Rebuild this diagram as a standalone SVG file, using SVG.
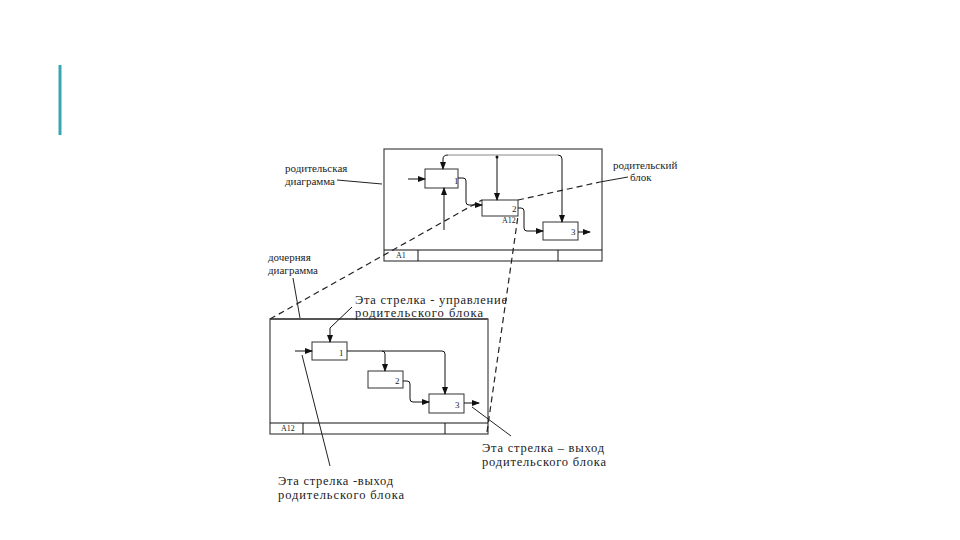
<svg xmlns="http://www.w3.org/2000/svg" width="960" height="540" viewBox="0 0 960 540">
<defs>
<marker id="ah" markerWidth="8" markerHeight="6" refX="7" refY="3" orient="auto" markerUnits="userSpaceOnUse">
<path d="M0,0 L8,3 L0,6 Z" fill="#111"/>
</marker>
<style>
.t{font-family:"Liberation Serif","DejaVu Serif","Times New Roman",serif;fill:#222}
.lbl{font-size:11px}
.ann{font-size:12.5px}
.num{font-size:9px}
.sm{font-size:8px}
.box{fill:#fff;stroke:#333;stroke-width:1}
.frame{fill:#fff;stroke:#444;stroke-width:1.2}
.ln{fill:none;stroke:#111;stroke-width:1}
.arr{fill:none;stroke:#111;stroke-width:1;marker-end:url(#ah)}
.lead{fill:none;stroke:#222;stroke-width:1}
.dash{fill:none;stroke:#222;stroke-width:1.2;stroke-dasharray:6,4}
</style>
</defs>
<rect width="960" height="540" fill="#fff"/>
<line x1="60" y1="65" x2="60" y2="135" stroke="#3aa6b0" stroke-width="3"/>

<g id="parent-diagram">
<rect class="frame" x="384" y="149" width="218" height="112"/>
<line class="ln" x1="384" y1="250" x2="602" y2="250" stroke="#666"/>
<line class="ln" x1="418" y1="250" x2="418" y2="261"/>
<line class="ln" x1="558" y1="250" x2="558" y2="261"/>
<text class="t sm" x="396" y="258">A1</text>
</g>
<g id="p-box1">
<rect class="box" x="425" y="169" width="33" height="19" stroke="#aaa"/>
<text class="t num" x="454" y="184">1</text>
</g>
<g id="p-box2">
<rect class="box" x="482" y="200" width="36" height="16"/>
<text class="t num" x="512" y="212">2</text>
<text class="t sm" x="502" y="223" fill="#555">A12</text>
</g>
<g id="p-box3">
<rect class="box" x="543" y="222" width="35" height="18"/>
<text class="t num" x="571" y="235">3</text>
</g>

<g id="child-diagram">
<rect class="frame" x="270" y="319" width="218" height="115"/>
<line x1="270" y1="319" x2="488" y2="319" stroke="#555" stroke-width="2"/>
<line class="ln" x1="270" y1="423" x2="488" y2="423"/>
<line class="ln" x1="303" y1="423" x2="303" y2="434"/>
<line class="ln" x1="445" y1="423" x2="445" y2="434"/>
<text class="t sm" x="281" y="431">A12</text>
</g>
<g id="c-box1">
<rect class="box" x="312" y="342" width="35" height="18"/>
<text class="t num" x="339" y="356">1</text>
</g>
<g id="c-box2">
<rect class="box" x="368" y="371" width="35" height="17"/>
<text class="t num" x="395" y="384">2</text>
</g>
<g id="c-box3">
<rect class="box" x="429" y="394" width="35" height="19"/>
<text class="t num" x="455" y="408">3</text>
</g>

<g id="connectors">
<line class="arr" x1="408" y1="179" x2="425" y2="179"/>
<line class="arr" x1="444" y1="230" x2="444" y2="188"/>
<path class="arr" d="M448,155 Q443,155 443,159 L443,169"/>
<line x1="448" y1="155" x2="558" y2="155" stroke="#888" stroke-width="1"/>
<path class="arr" d="M558,155 Q562,155 562,159 L562,222"/>
<path class="arr" d="M497,157 L497,200"/>
<circle cx="497" cy="157" r="1.5" fill="#111"/>
<path class="arr" d="M458,178 L463,178 Q466,178 466,181 L466,202 Q466,205 469,205 L482,205"/>
<path class="arr" d="M518,208 L521,208 Q524,208 524,211 L524,228 Q524,231 527,231 L543,231"/>
<line class="arr" x1="578" y1="232" x2="590" y2="232"/>
<line class="arr" x1="295" y1="351" x2="312" y2="351"/>
<path class="arr" d="M352,307 L330,328 L330,342"/>
<path class="arr" d="M347,351 L442,351 Q445,351 445,354 L445,394"/>
<path class="arr" d="M382,351 Q385,351 385,354 L385,371"/>
<path class="arr" d="M403,381 L407,381 Q410,381 410,384 L410,399 Q410,402 413,402 L429,402"/>
<line class="arr" x1="464" y1="403" x2="479" y2="403"/>
<line class="lead" x1="337" y1="180" x2="382" y2="184"/>
<line class="lead" x1="293" y1="278" x2="300" y2="318"/>
<line class="lead" x1="302" y1="355" x2="330" y2="466"/>
<line class="lead" x1="472" y1="407" x2="511" y2="436"/>
<line class="dash" x1="518" y1="200" x2="600" y2="182"/>
<line class="lead" x1="600" y1="182" x2="628" y2="177"/>
<line class="dash" x1="270" y1="319" x2="482" y2="200"/>
<line class="dash" x1="487" y1="432" x2="518" y2="216"/>
</g>

<g id="labels">
<text class="t lbl" x="285" y="172">родительская</text>
<text class="t lbl" x="285" y="185">диаграмма</text>
<text class="t lbl" x="613" y="169">родительский</text>
<text class="t lbl" x="630" y="181">блок</text>
<text class="t lbl" x="268" y="261">дочерняя</text>
<text class="t lbl" x="268" y="274">диаграмма</text>
<text class="t ann" x="355" y="304" textLength="152">Эта стрелка - управление</text>
<text class="t ann" x="355" y="317" textLength="128">родительского блока</text>
<text class="t ann" x="482" y="452" textLength="122">Эта стрелка – выход</text>
<text class="t ann" x="482" y="466" textLength="124">родительского блока</text>
<text class="t ann" x="278" y="485" textLength="115">Эта стрелка -выход</text>
<text class="t ann" x="278" y="499" textLength="126">родительского блока</text>
</g>
</svg>
